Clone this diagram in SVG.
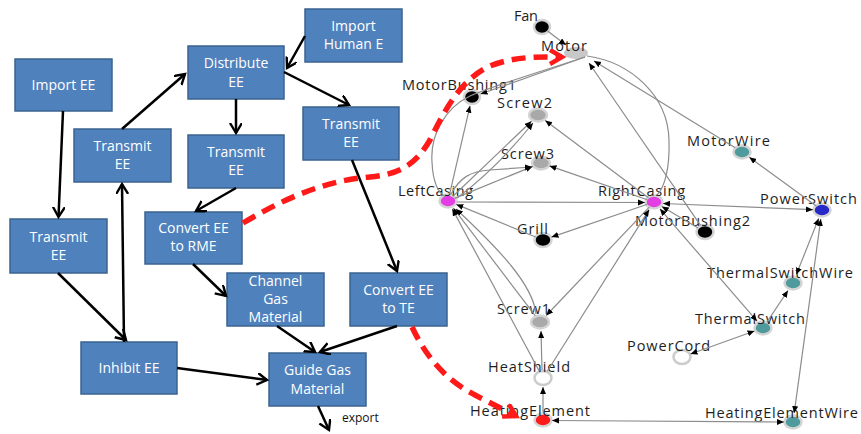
<svg xmlns="http://www.w3.org/2000/svg" width="861" height="434" viewBox="0 0 861 434">
<style>
.box{fill:#4f81bd;stroke:#3a6390;stroke-width:1.5}
.bt{font-family:"Open Sans","Liberation Sans",sans-serif;font-size:14px;fill:#ffffff;text-anchor:middle}
.fa{stroke:#000000;stroke-width:2.5;fill:none;marker-end:url(#ah)}
.ge{stroke:#8c8c8c;stroke-width:1.2;fill:none}
.e1{marker-end:url(#gh)}
.e2{marker-start:url(#gh);marker-end:url(#gh)}
.gl{font-family:"Open Sans","Liberation Sans",sans-serif;font-size:14.5px;fill:#1e1e1e}
.nd{stroke:#d4d4d4;stroke-width:2.5}
.rd{stroke:#ff1a1a;stroke-width:5.5;fill:none;stroke-dasharray:14 8}
.ex{font-family:"Open Sans","Liberation Sans",sans-serif;font-size:12px;fill:#111111}
</style>
<defs>
<marker id="ah" markerUnits="userSpaceOnUse" markerWidth="14" markerHeight="14" refX="10" refY="6" orient="auto">
<path d="M0,0 L10,6 L0,12" fill="none" stroke="#000000" stroke-width="2.4"/>
</marker>
<marker id="gh" markerUnits="userSpaceOnUse" markerWidth="9" markerHeight="8" refX="7" refY="3" orient="auto-start-reverse">
<path d="M0,0 L7,3 L0,6 z" fill="#000000"/>
</marker>
<marker id="rh" markerUnits="userSpaceOnUse" markerWidth="20" markerHeight="20" refX="13" refY="8" orient="auto">
<path d="M1,1 L13,8 L1,15" fill="none" stroke="#ff1a1a" stroke-width="4.5" stroke-dasharray="none"/>
</marker>
</defs>

<g id="function-model">
<g id="n-import-ee"><rect class="box" x="15" y="59" width="97" height="52"/><text class="bt" x="63.5" y="90">Import EE</text></g>
<g id="n-import-human-e"><rect class="box" x="305" y="9" width="97" height="53"/><text class="bt" x="353.5" y="31">Import</text><text class="bt" x="353.5" y="49">Human E</text></g>
<g id="n-distribute-ee"><rect class="box" x="188" y="46" width="96" height="53"/><text class="bt" x="236" y="68">Distribute</text><text class="bt" x="236" y="87">EE</text></g>
<g id="n-transmit-ee-1"><rect class="box" x="74" y="129" width="97" height="53"/><text class="bt" x="122.5" y="151">Transmit</text><text class="bt" x="122.5" y="169">EE</text></g>
<g id="n-transmit-ee-2"><rect class="box" x="188" y="135" width="96" height="53"/><text class="bt" x="236" y="157">Transmit</text><text class="bt" x="236" y="175">EE</text></g>
<g id="n-transmit-ee-3"><rect class="box" x="303" y="107" width="96" height="53"/><text class="bt" x="351" y="129">Transmit</text><text class="bt" x="351" y="147">EE</text></g>
<g id="n-transmit-ee-4"><rect class="box" x="10" y="219" width="97" height="54"/><text class="bt" x="58.5" y="242">Transmit</text><text class="bt" x="58.5" y="260">EE</text></g>
<g id="n-convert-rme"><rect class="box" x="145" y="212" width="97" height="52"/><text class="bt" x="193.5" y="233">Convert EE</text><text class="bt" x="193.5" y="251">to RME</text></g>
<g id="n-channel-gas"><rect class="box" x="227" y="273" width="97" height="53"/><text class="bt" x="275.5" y="286">Channel</text><text class="bt" x="275.5" y="304">Gas</text><text class="bt" x="275.5" y="322">Material</text></g>
<g id="n-convert-te"><rect class="box" x="350" y="273" width="97" height="53"/><text class="bt" x="398.5" y="295">Convert EE</text><text class="bt" x="398.5" y="313">to TE</text></g>
<g id="n-inhibit-ee"><rect class="box" x="81" y="342" width="96" height="52"/><text class="bt" x="129" y="373">Inhibit EE</text></g>
<g id="n-guide-gas"><rect class="box" x="269" y="353" width="97" height="53"/><text class="bt" x="317.5" y="375">Guide Gas</text><text class="bt" x="317.5" y="394">Material</text></g>
<text class="ex" x="342" y="422">export</text>
</g>

<g id="function-connectors">
<path class="fa" d="M63,111 L58.5,217"/>
<path class="fa" d="M58,273 L126,340"/>
<path class="fa" d="M124,342 L122,184"/>
<path class="fa" d="M122,129 L185,74"/>
<path class="fa" d="M236,99 L236,133"/>
<path class="fa" d="M305,36 L287,68"/>
<path class="fa" d="M284,72 L349,105"/>
<path class="fa" d="M236,188 L196,211"/>
<path class="fa" d="M352,160 L397,271"/>
<path class="fa" d="M193,264 L226,296"/>
<path class="fa" d="M277,326 L315,352"/>
<path class="fa" d="M397,326 L320,352"/>
<path class="fa" d="M177,368 L267,380"/>
<path class="fa" d="M318,406 L329,430"/>
</g>

<g id="graph-nodes">
<g id="g-fan"><ellipse class="nd" cx="542" cy="27" rx="8" ry="7" fill="#000000"/><text class="gl" x="514" y="21" textLength="24">Fan</text></g>
<g id="g-motor"><ellipse cx="576" cy="53" rx="12" ry="6" fill="#c8c8c8"/><text class="gl" x="541" y="51" textLength="46">Motor</text></g>
<g id="g-motorbushing1"><ellipse class="nd" cx="472" cy="97" rx="8" ry="7" fill="#000000"/><text class="gl" x="402" y="90" textLength="114">MotorBushing1</text></g>
<g id="g-screw2"><ellipse class="nd" cx="538" cy="115" rx="9" ry="6.5" fill="#a9a9a9"/><text class="gl" x="497" y="108" textLength="55">Screw2</text></g>
<g id="g-screw3"><ellipse class="nd" cx="541" cy="163" rx="9" ry="6.5" fill="#a9a9a9"/><text class="gl" x="501" y="159" textLength="53">Screw3</text></g>
<g id="g-leftcasing"><ellipse class="nd" cx="448" cy="201" rx="8.5" ry="6.5" fill="#e43de4"/><text class="gl" x="398" y="196" textLength="75">LeftCasing</text></g>
<g id="g-rightcasing"><ellipse class="nd" cx="654" cy="202" rx="8.5" ry="6.5" fill="#e43de4"/><text class="gl" x="598" y="196" textLength="87">RightCasing</text></g>
<g id="g-motorwire"><ellipse class="nd" cx="742" cy="152" rx="8.5" ry="6.5" fill="#4e9a9c"/><text class="gl" x="687" y="146" textLength="83">MotorWire</text></g>
<g id="g-powerswitch"><ellipse class="nd" cx="822" cy="210" rx="8.5" ry="6.5" fill="#2828c8"/><text class="gl" x="760" y="204" textLength="97">PowerSwitch</text></g>
<g id="g-grill"><ellipse class="nd" cx="543" cy="240" rx="8.5" ry="7" fill="#000000"/><text class="gl" x="517" y="234" textLength="31">Grill</text></g>
<g id="g-motorbushing2"><ellipse class="nd" cx="705" cy="232" rx="8.5" ry="7" fill="#000000"/><text class="gl" x="635" y="226" textLength="115">MotorBushing2</text></g>
<g id="g-thermalswitchwire"><ellipse class="nd" cx="793" cy="283" rx="8.5" ry="6.5" fill="#4e9a9c"/><text class="gl" x="707" y="278" textLength="146">ThermalSwitchWire</text></g>
<g id="g-thermalswitch"><ellipse class="nd" cx="763" cy="328" rx="8.5" ry="6.5" fill="#4e9a9c"/><text class="gl" x="695" y="324" textLength="110">ThermalSwitch</text></g>
<g id="g-powercord"><ellipse cx="682" cy="357" rx="8.5" ry="7" fill="#ffffff" stroke="#cccccc" stroke-width="2.5"/><text class="gl" x="627" y="351" textLength="83">PowerCord</text></g>
<g id="g-screw1"><ellipse class="nd" cx="540" cy="322" rx="9" ry="6.5" fill="#a9a9a9"/><text class="gl" x="497" y="314" textLength="53">Screw1</text></g>
<g id="g-heatshield"><ellipse cx="543" cy="378" rx="8.5" ry="7" fill="#ffffff" stroke="#cccccc" stroke-width="2.5"/><text class="gl" x="488" y="372" textLength="82">HeatShield</text></g>
<g id="g-heatingelement"><ellipse class="nd" cx="543" cy="420" rx="8.5" ry="6.5" fill="#ff1a1a"/><text class="gl" x="470" y="416" textLength="120">HeatingElement</text></g>
<g id="g-heatingelementwire"><ellipse class="nd" cx="793" cy="422" rx="8.5" ry="6.5" fill="#4e9a9c"/><text class="gl" x="705" y="418" textLength="153">HeatingElementWire</text></g>
</g>

<g id="graph-connectors">
<path class="ge e1" d="M547.6,31.1 L566,45"/>
<path class="ge e1" d="M585,57 L480.5,94"/>
<path class="ge" d="M585,57 C540,72 495,85 470,96 C445,108 430,135 432,162 C433,185 440,194 446,197"/>
<path class="ge" d="M587,56 C630,62 668,95 669,140 C670,170 664,188 657,195"/>
<path class="ge e1" d="M700.5,225.4 L589,63"/>
<path class="ge e1" d="M735.2,147.8 L594,61"/>
<path class="ge e1" d="M449.6,194.2 L470,105.8"/>
<path class="ge e1" d="M453,196.2 L531.5,121.2"/>
<path class="ge e1" d="M457,198 Q497,168 533,123"/>
<path class="ge e1" d="M454.5,198.4 L532.7,166.4"/>
<path class="ge e1" d="M451,194 C460,178 470,171 490,170 L532,167"/>
<path class="ge e1" d="M648.4,197.8 L545.2,120.4"/>
<path class="ge e1" d="M647.4,199.7 L549.5,165.9"/>
<path class="ge e1" d="M457,202 L645,202.5"/>
<path class="ge e2" d="M663,203.5 L813,209.7"/>
<path class="ge e1" d="M816.3,205.9 L749.3,157.3"/>
<path class="ge e1" d="M535.6,237 L456.3,204.4"/>
<path class="ge e1" d="M647.4,204.3 L551.5,237.1"/>
<path class="ge e1" d="M698.1,227.9 L661.8,206.6"/>
<path class="ge e2" d="M757.1,321.2 L659.9,208.8"/>
<path class="ge e2" d="M796.3,274.6 L818.7,218.4"/>
<path class="ge e2" d="M794.2,413.1 L820.8,218.9"/>
<path class="ge e1" d="M766.9,322.2 L788,290.5"/>
<path class="ge e2" d="M690.5,354 L754.5,331"/>
<path class="ge e2" d="M552,420.5 L784,422"/>
<path class="ge e1" d="M543,412 L543,387"/>
<path class="ge e1" d="M542,370 L541,331"/>
<path class="ge e1" d="M535.2,315.6 L453.4,208.2"/>
<path class="ge e1" d="M536,314 C533,285 500,250 456,209"/>
<path class="ge e1" d="M539.2,371 L452.3,208.9"/>
<path class="ge e1" d="M649.2,207.1 L546.2,315.5"/>
<path class="ge e1" d="M547.3,371.2 L649.2,209.6"/>
</g>

<g id="mapping-connectors">
<path class="rd" marker-end="url(#rh)" d="M243,223 C290,195 330,180 370,177 C405,174 418,160 430,140 C445,110 460,80 490,66 C515,56 540,57 562,57"/>
<path class="rd" marker-end="url(#rh)" d="M412,327 C425,355 445,380 475,395 C490,403 505,410 516,416"/>
</g>
</svg>
